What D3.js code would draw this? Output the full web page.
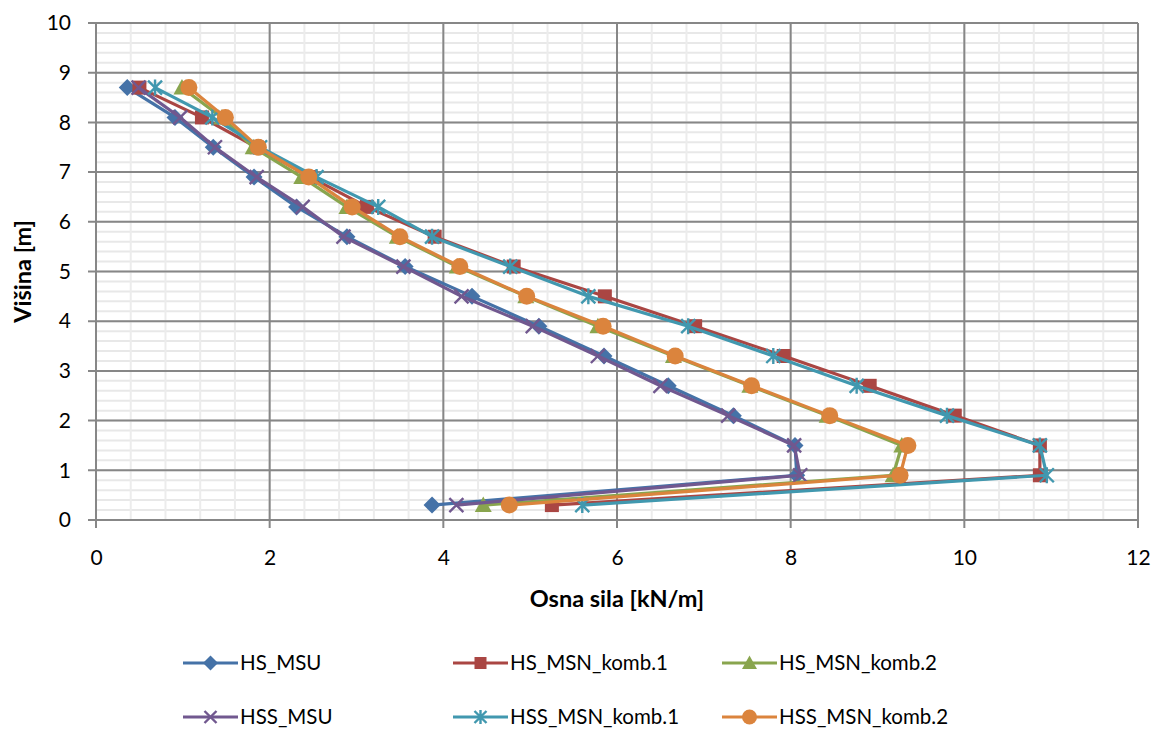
<!DOCTYPE html>
<html>
<head>
<meta charset="utf-8">
<script src="https://cdn.jsdelivr.net/npm/d3@7"></script>
<style>
  html, body { margin: 0; padding: 0; background: #fff; }
  svg { display: block; font-family: Lato, "Liberation Sans", sans-serif; }
</style>
</head>
<body>
<svg id="chart" width="1155" height="729"></svg>
<script>
// Heights of the measurement points [m]
const heights = [8.7, 8.1, 7.5, 6.9, 6.3, 5.7, 5.1, 4.5, 3.9, 3.3, 2.7, 2.1, 1.5, 0.9, 0.3];

// Axial force per series [kN/m]
const hsMsu      = [0.36, 0.91, 1.35, 1.82, 2.31, 2.89, 3.56, 4.33, 5.10, 5.85, 6.59, 7.34, 8.05, 8.07, 3.87];
const hsMsnK1    = [0.50, 1.22, 1.85, 2.47, 3.12, 3.90, 4.81, 5.86, 6.90, 7.92, 8.91, 9.89, 10.87, 10.87, 5.25];
const hsMsnK2    = [0.99, 1.45, 1.81, 2.37, 2.89, 3.47, 4.16, 4.95, 5.78, 6.65, 7.53, 8.42, 9.28, 9.18, 4.46];
const hssMsu     = [0.49, 0.97, 1.37, 1.85, 2.38, 2.85, 3.54, 4.21, 5.03, 5.78, 6.50, 7.28, 8.04, 8.11, 4.15];
const hssMsnK1   = [0.68, 1.34, 1.89, 2.54, 3.25, 3.87, 4.77, 5.67, 6.82, 7.80, 8.76, 9.80, 10.87, 10.95, 5.60];
const hssMsnK2   = [1.07, 1.49, 1.87, 2.45, 2.95, 3.50, 4.19, 4.96, 5.84, 6.67, 7.55, 8.45, 9.35, 9.26, 4.76];

const seriesNames = ["HS_MSU", "HS_MSN_komb.1", "HS_MSN_komb.2", "HSS_MSU", "HSS_MSN_komb.1", "HSS_MSN_komb.2"];
const seriesValues = [hsMsu, hsMsnK1, hsMsnK2, hssMsu, hssMsnK1, hssMsnK2];
const seriesColors = ["#4572A7", "#AA4643", "#89A54E", "#71588F", "#4198AF", "#DB843D"];
const seriesMarkers = ["diamond", "square", "triangle", "cross", "asterisk", "circle"];

const xTicks = [0, 2, 4, 6, 8, 10, 12];
const yTicks = [0, 1, 2, 3, 4, 5, 6, 7, 8, 9, 10];

const svg = d3.select("#chart");
const plot = { left: 96, right: 1138, top: 23, bottom: 520 };

const x = d3.scaleLinear().domain([0, 12]).range([plot.left, plot.right]);
const y = d3.scaleLinear().domain([0, 10]).range([plot.bottom, plot.top]);

// Minor grid
const g = svg.append("g");
g.selectAll("line.hminor").data(d3.range(0, 10.001, 0.2)).join("line")
  .attr("x1", plot.left).attr("x2", plot.right)
  .attr("y1", d => y(d)).attr("y2", d => y(d))
  .attr("stroke", "#e8e8e8").attr("stroke-width", 2);
g.selectAll("line.vminor").data(d3.range(0, 12.001, 0.4)).join("line")
  .attr("y1", plot.top).attr("y2", plot.bottom)
  .attr("x1", d => x(d)).attr("x2", d => x(d))
  .attr("stroke", "#ececec").attr("stroke-width", 2);

// Major grid with outward tick stubs
g.append("g").selectAll("line").data(yTicks).join("line")
  .attr("x1", plot.left - 8).attr("x2", plot.right)
  .attr("y1", d => y(d)).attr("y2", d => y(d))
  .attr("stroke", "#878787").attr("stroke-width", 2);
g.append("g").selectAll("line").data(xTicks).join("line")
  .attr("y1", plot.top).attr("y2", plot.bottom + 8)
  .attr("x1", d => x(d)).attr("x2", d => x(d))
  .attr("stroke", "#878787").attr("stroke-width", 2);

// Tick labels
const xAxis = svg.append("g").attr("transform", `translate(0,${plot.bottom})`)
  .call(d3.axisBottom(x).tickValues(xTicks).tickSize(0).tickPadding(30).tickFormat(d3.format("d")));
const yAxis = svg.append("g").attr("transform", `translate(${plot.left},0)`)
  .call(d3.axisLeft(y).tickValues(yTicks).tickSize(0).tickPadding(25).tickFormat(d3.format("d")));
[xAxis, yAxis].forEach(a => {
  a.select(".domain").remove();
  a.selectAll("text").attr("font-size", 21).attr("fill", "#000")
    .attr("font-family", "Lato, 'Liberation Sans', sans-serif");
});

// Axis titles
svg.append("text").attr("x", 617).attr("y", 607).attr("text-anchor", "middle")
  .attr("font-size", 23.5).attr("font-weight", "bold").text("Osna sila [kN/m]");
svg.append("text").attr("transform", `translate(31,${(plot.top + plot.bottom) / 2}) rotate(-90)`)
  .attr("text-anchor", "middle").attr("font-size", 23.5).attr("font-weight", "bold").text("Višina [m]");

// Marker shapes
function drawMarker(sel, type, color, s) {
  const h = s / 2;
  if (type === "diamond") {
    sel.append("path").attr("d", `M0,${-h - 1.5}L${h + 1.5},0L0,${h + 1.5}L${-h - 1.5},0Z`).attr("fill", color);
  } else if (type === "square") {
    sel.append("rect").attr("x", -h).attr("y", -h).attr("width", s).attr("height", s).attr("fill", color);
  } else if (type === "triangle") {
    sel.append("path").attr("d", `M0,${-h - 1.5}L${h + 1.5},${h}L${-h - 1.5},${h}Z`).attr("fill", color);
  } else if (type === "circle") {
    sel.append("circle").attr("r", h + 1.5).attr("fill", color);
  } else if (type === "cross") {
    sel.append("path").attr("d", `M${-h},${-h}L${h},${h}M${-h},${h}L${h},${-h}`)
      .attr("stroke", color).attr("stroke-width", 2.4).attr("fill", "none");
  } else if (type === "asterisk") {
    sel.append("path").attr("d", `M${-h},${-h}L${h},${h}M${-h},${h}L${h},${-h}M0,${-h - 1}L0,${h + 1}`)
      .attr("stroke", color).attr("stroke-width", 2.4).attr("fill", "none");
  }
}

const line = d3.line().x(d => x(d[0])).y(d => y(d[1]));

seriesValues.forEach((vals, i) => {
  const pts = vals.map((v, k) => [v, heights[k]]);
  const sg = svg.append("g");
  sg.append("path").datum(pts).attr("d", line)
    .attr("fill", "none").attr("stroke", seriesColors[i]).attr("stroke-width", 3.2)
    .attr("stroke-linejoin", "round");
  pts.forEach(p => {
    const m = sg.append("g").attr("transform", `translate(${x(p[0])},${y(p[1])})`);
    drawMarker(m, seriesMarkers[i], seriesColors[i], 14);
  });
});

// Legend
const legendCols = [183, 453, 722];
const legendRows = [663, 717];
seriesNames.forEach((name, i) => {
  const cx = legendCols[i % 3];
  const cy = legendRows[Math.floor(i / 3)];
  const lg = svg.append("g");
  lg.append("line").attr("x1", cx).attr("x2", cx + 55).attr("y1", cy).attr("y2", cy)
    .attr("stroke", seriesColors[i]).attr("stroke-width", 3.2);
  const m = lg.append("g").attr("transform", `translate(${cx + 27.5},${cy})`);
  drawMarker(m, seriesMarkers[i], seriesColors[i], 12);
  lg.append("text").attr("x", cx + 57).attr("y", cy).attr("dy", "0.36em")
    .attr("font-size", 20.5).text(name);
});
</script>
</body>
</html>
